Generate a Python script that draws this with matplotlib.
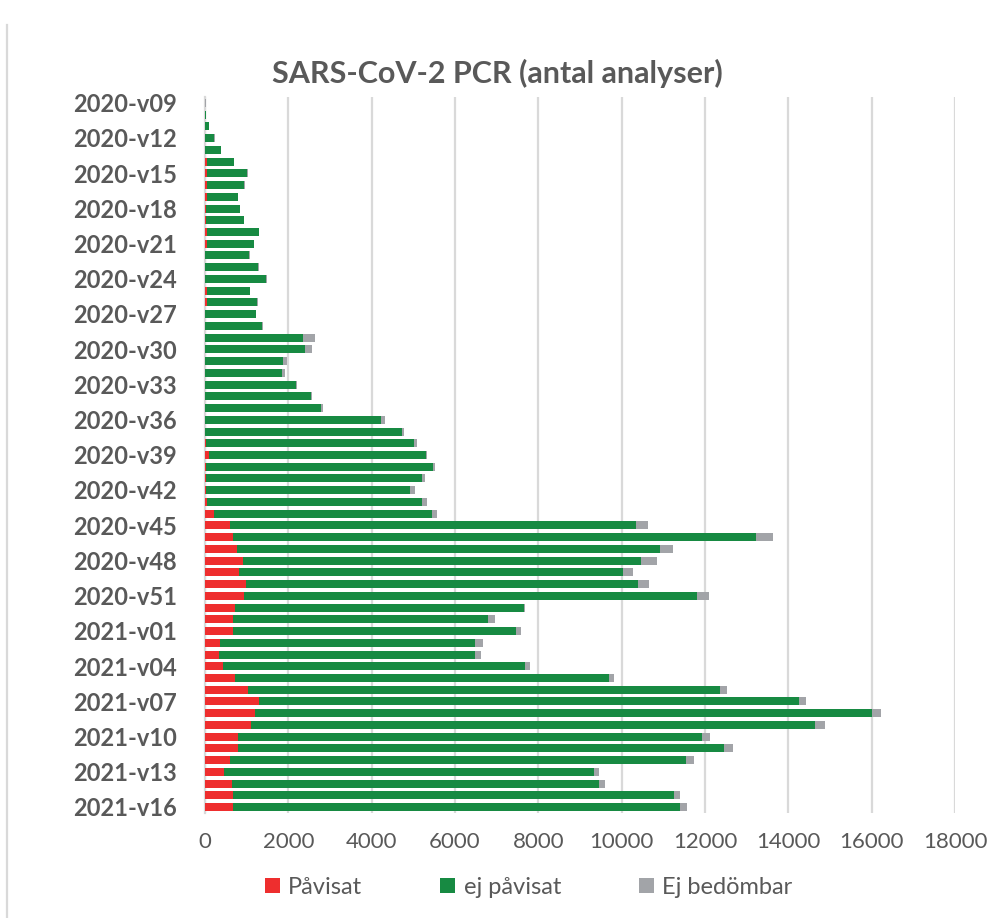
import numpy as np
import matplotlib
matplotlib.use("Agg")
import matplotlib.pyplot as plt
from matplotlib.lines import Line2D
from matplotlib.transforms import blended_transform_factory

# weeks 2020-v09 .. 2020-v53, 2021-v01 .. 2021-v16
WEEKS = [f"2020-v{w:02d}" for w in range(9, 54)] + [f"2021-v{w:02d}" for w in range(1, 17)]

PAVISAT = [
    0, 0, 0, 5, 5, 50, 60, 60, 40, 15, 15, 40, 40, 10, 10, 10, 40, 40, 10, 10,
    10, 10, 10, 10, 10, 10, 10, 10, 10, 20, 90, 30, 35, 35, 60, 225, 610, 683, 770, 908,
    820, 980, 932, 715, 683,
    667, 360, 345, 426, 731, 1030, 1290, 1200, 1103, 782, 782, 610, 450, 643, 664, 664,
]
EJ_PAVISAT = [
    5, 20, 100, 220, 380, 650, 960, 880, 750, 815, 910, 1250, 1125, 1050, 1260, 1460, 1035, 1220, 1205, 1350,
    2335, 2390, 1855, 1845, 2185, 2545, 2785, 4210, 4715, 4995, 5220, 5450, 5175, 4885, 5150, 5225, 9740, 12540, 10160, 9560,
    9210, 9400, 10865, 6935, 6115,
    6785, 6125, 6130, 7265, 8960, 11330, 12955, 14800, 13545, 11140, 11675, 10935, 8890, 8805, 10580, 10740,
]
EJ_BEDOMBAR = [
    10, 10, 5, 5, 5, 5, 5, 10, 5, 5, 10, 5, 5, 10, 20, 20, 10, 10, 20, 40,
    290, 180, 110, 75, 25, 25, 40, 95, 45, 65, 30, 45, 60, 110, 120, 125, 280, 415, 300, 380,
    235, 280, 305, 20, 155,
    140, 180, 145, 120, 125, 170, 170, 225, 225, 205, 215, 195, 115, 160, 160, 160,
]

X_TICKS = list(range(0, 18001, 2000))

RED = "#EE2E2E"
GREEN = "#178A42"
GREY = "#A2A4A8"
TEXT = "#595959"
GRID = "#D9D9D9"


def main():
    plt.rcParams["font.family"] = ["Lato", "DejaVu Sans"]

    fig = plt.figure(figsize=(9.97, 9.18), dpi=100)
    ax = fig.add_axes([0.2056, 0.1144, 0.7523, 0.7799])

    y = np.arange(len(WEEKS))
    p = np.array(PAVISAT)
    e = np.array(EJ_PAVISAT)
    b = np.array(EJ_BEDOMBAR)

    h = 0.68
    ax.barh(y, p, height=h, color=RED, label="Påvisat", zorder=3)
    ax.barh(y, e, left=p, height=h, color=GREEN, label="ej påvisat", zorder=3)
    ax.barh(y, b, left=p + e, height=h, color=GREY, label="Ej bedömbar", zorder=3)

    ax.set_xlim(0, 18000)
    ax.set_ylim(len(WEEKS) - 0.5, -0.5)

    ax.set_xticks(X_TICKS)
    ax.set_xticklabels([str(v) for v in X_TICKS], fontsize=16, color=TEXT)
    ax.tick_params(axis="both", length=0)
    ax.tick_params(axis="x", pad=14)

    # week labels, every third week, right edge ~28 px left of the axis
    ax.set_yticks(y[::3])
    ax.set_yticklabels([])
    trans = blended_transform_factory(ax.transAxes, ax.transData)
    for i in y[::3]:
        ax.text(-0.0373, i + 0.15, WEEKS[i], transform=trans, ha="right", va="center",
                fontsize=17, fontweight="bold", color=TEXT)

    ax.grid(axis="x", color=GRID, linewidth=1.6, zorder=0)
    for s in ["top", "right", "bottom"]:
        ax.spines[s].set_visible(False)
    ax.spines["left"].set_color(GRID)
    ax.spines["left"].set_linewidth(1.6)

    fig.text(0.4985, 0.920, "SARS-CoV-2 PCR (antal analyser)", ha="center", va="center",
             fontsize=22, fontweight="bold", color=TEXT)

    ax.legend(loc="center", bbox_to_anchor=(0.4317, -0.104), ncol=3, frameon=False,
              fontsize=17, labelcolor=TEXT, handlelength=0.64, handleheight=0.64,
              handletextpad=0.35, columnspacing=3.3, borderpad=0)

    # left edge of the surrounding chart frame
    fig.add_artist(Line2D([0.0075, 0.0075], [0, 0.973], color=GRID, linewidth=1.6))

    fig.savefig("out.png", dpi=100)


if __name__ == "__main__":
    main()
